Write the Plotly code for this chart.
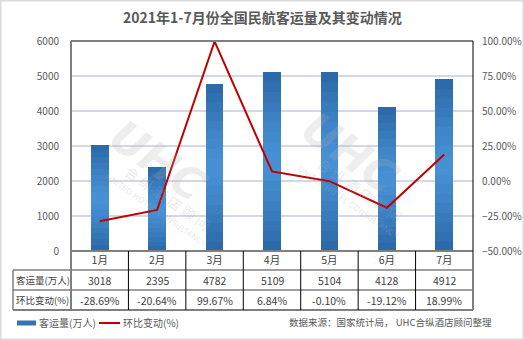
import plotly.graph_objects as go

# Monthly civil aviation passenger volume (10k persons) and month-on-month change (%)
months = ["1月", "2月", "3月", "4月", "5月", "6月", "7月"]
passengers = [3018, 2395, 4782, 5109, 5104, 4128, 4912]
mom_change = [-28.69, -20.64, 99.67, 6.84, -0.10, -19.12, 18.99]

row_labels = ["客运量(万人)", "环比变动(%)"]
title_text = "2021年1-7月份全国民航客运量及其变动情况"
source_text = "数据来源：国家统计局， UHC合纵酒店顾问整理"

W, H = 524, 340
L, R, T, B = 71, 473, 41, 251  # plot area in pixels
FONT = "Noto Sans CJK SC, Microsoft YaHei, sans-serif"
GREY_TXT = "#595959"


def px(x):
    return (x - L) / (R - L)


def py(y):
    return (B - y) / (B - T)


def mix(c1, c2, t):
    a = [int(c1[i:i + 2], 16) for i in (1, 3, 5)]
    b = [int(c2[i:i + 2], 16) for i in (1, 3, 5)]
    return "#" + "".join(f"{round(a[k] + (b[k] - a[k]) * t):02x}" for k in range(3))


fig = go.Figure()

# Bars rendered as stacked slices to give the vertical shading
N = 18
light, dark = "#4791d4", "#2a67a6"
for i in range(N):
    t = (i + 0.5) / N
    d = abs(t - 0.5) * 2
    fig.add_trace(go.Bar(
        x=months, y=[v / N for v in passengers], width=0.31,
        marker=dict(color=mix(light, dark, d ** 1.3), line=dict(width=0)),
        showlegend=False, hoverinfo="skip", yaxis="y",
    ))

fig.add_trace(go.Scatter(
    x=months, y=mom_change, mode="lines", yaxis="y2",
    line=dict(color="#c00000", width=2), showlegend=False,
))

shapes = []
ann = []


def text(x, y, s, size=11, color="#404040", xanchor="center", xref="paper", **kw):
    ann.append(dict(x=x, y=y, xref=xref, yref="paper", text=s, showarrow=False,
                    xanchor=xanchor, yanchor="middle",
                    font=dict(family=kw.pop("family", FONT), size=size, color=color), **kw))


# Watermarks
for cx, cy in [(158, 160), (350, 152)]:
    text(px(cx), py(cy), "<b><i>UHC</i></b>", size=44, color="rgba(175,175,175,0.22)",
         family="DejaVu Sans", textangle=35)
    text(px(cx + 10), py(cy + 38), "合 纵 酒 店 顾 问", size=14, color="rgba(170,170,170,0.25)",
         textangle=35)
    text(px(cx - 2), py(cy + 50), "UNITED HOTEL CONSULTANCY", size=8, color="rgba(170,170,170,0.28)",
         family="DejaVu Sans", textangle=35)

# Plot frame
shapes += [
    dict(type="line", xref="paper", yref="paper", x0=0, x1=1, y0=1, y1=1, line=dict(color="#7f7f7f", width=2)),
    dict(type="line", xref="paper", yref="paper", x0=0, x1=0, y0=py(310), y1=1, line=dict(color="#7f7f7f", width=2)),
    dict(type="line", xref="paper", yref="paper", x0=0, x1=1, y0=0, y1=0, line=dict(color="#7f7f7f", width=2)),
    dict(type="line", xref="paper", yref="paper", x0=1, x1=1, y0=py(310), y1=1, line=dict(color="#000000", width=1)),
]

# Data table lines
TL = 13
for yy, w in [(270, 1.5), (290, 1.5), (310, 2)]:
    shapes.append(dict(type="line", xref="paper", yref="paper", x0=px(TL), x1=1, y0=py(yy), y1=py(yy),
                       line=dict(color="#7f7f7f", width=w)))
shapes.append(dict(type="line", xref="paper", yref="paper", x0=px(TL), x1=px(TL), y0=py(310), y1=py(270),
                   line=dict(color="#7f7f7f", width=1.5)))
colw = (R - L) / len(months)
for k in range(1, len(months)):
    xx = L + k * colw
    shapes.append(dict(type="line", xref="paper", yref="paper", x0=px(xx), x1=px(xx), y0=py(310), y1=0,
                       line=dict(color="#000000", width=1)))

# Table text
text(px((TL + L) / 2 + 0.5), py(280), row_labels[0], size=9.5)
text(px((TL + L) / 2 + 0.5), py(300), row_labels[1], size=9.5)
for k, m in enumerate(months):
    text(m, py(280), str(passengers[k]), xref="x", size=10.5)
    text(m, py(300), f"{mom_change[k]:.2f}%", xref="x", size=10.5)

# Legend
shapes.append(dict(type="rect", xref="paper", yref="paper", x0=px(17), x1=px(36), y0=py(325.5), y1=py(320.5),
                   fillcolor="#3574b4", line=dict(width=0)))
text(px(37), py(322), row_labels[0], size=10, color=GREY_TXT, xanchor="left")
shapes.append(dict(type="line", xref="paper", yref="paper", x0=px(99), x1=px(120), y0=py(323), y1=py(323),
                   line=dict(color="#c00000", width=2)))
text(px(121), py(322), row_labels[1], size=10, color=GREY_TXT, xanchor="left")
text(px(494), py(322), source_text, size=9.5, color=GREY_TXT, xanchor="right")

# Title
text(px(262), py(17), f"<b>{title_text}</b>", size=14, color=GREY_TXT)

# Outer border
shapes.append(dict(type="rect", xref="paper", yref="paper", x0=px(0.75), x1=px(523.25), y0=py(339.25), y1=py(0.75),
                   line=dict(color="#d9d9d9", width=1.5), layer="below"))

fig.update_layout(
    template="none",
    width=W, height=H,
    margin=dict(l=L, r=W - R, t=T, b=H - B, pad=0, autoexpand=False),
    paper_bgcolor="white", plot_bgcolor="white",
    barmode="stack", bargap=0.69,
    showlegend=False,
    font=dict(family=FONT, size=10, color=GREY_TXT),
    xaxis=dict(type="category", automargin=False, showgrid=False, showline=False, zeroline=False, ticks="",
               tickfont=dict(family=FONT, size=10.5, color="#404040"), ticklabelstandoff=1),
    yaxis=dict(range=[0, 6000], dtick=1000, automargin=False, showgrid=True, gridcolor="#d3d8e4", gridwidth=2,
               zeroline=False, showline=False, ticks="", ticklabelstandoff=11,
               tickfont=dict(family=FONT, size=10, color=GREY_TXT)),
    yaxis2=dict(range=[-50, 100], dtick=25, overlaying="y", side="right", automargin=False, showgrid=False,
                zeroline=False, showline=False, ticks="", tickformat=".2f", ticksuffix="%",
                ticklabelstandoff=8, tickfont=dict(family=FONT, size=10, color=GREY_TXT)),
    shapes=shapes, annotations=ann,
)

fig.write_html("out.html")
